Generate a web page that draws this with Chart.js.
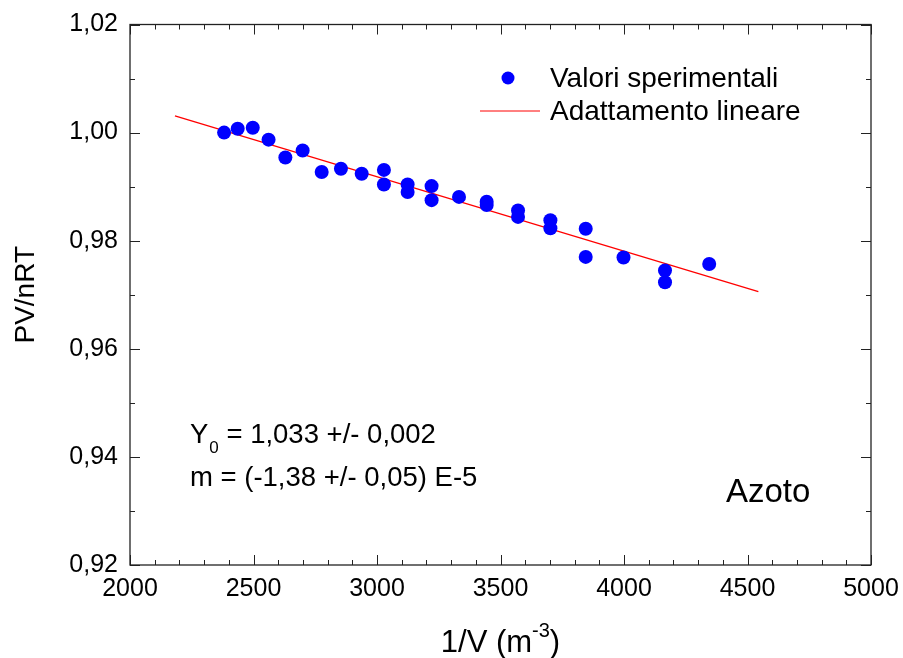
<!DOCTYPE html>
<html>
<head>
<meta charset="utf-8">
<title>Azoto - PV/nRT</title>
<script src="https://cdn.jsdelivr.net/npm/chart.js@4"></script>
<style>
  html, body { margin: 0; padding: 0; background: #fff; }
  canvas { display: block; }
</style>
</head>
<body>
<canvas id="chart" width="903" height="658"></canvas>
<script>
// measured points: 1/V (m^-3) and PV/nRT
const inverseVolume = [2381, 2436, 2497, 2561, 2629, 2699, 2776, 2854, 2938, 3028, 3028,
    3124, 3124, 3221, 3221, 3332, 3444, 3444, 3571, 3571, 3702, 3702, 3845, 3845, 3998,
    4166, 4166, 4345];
const pvOverNRT = [1.0000, 1.0007, 1.0009, 0.9987, 0.9954, 0.9967, 0.9927, 0.9933, 0.9924, 0.9931, 0.9904,
    0.9904, 0.9890, 0.9901, 0.9875, 0.9881, 0.9872, 0.9866, 0.9856, 0.9844, 0.9838, 0.9823, 0.9822, 0.9770, 0.9769,
    0.9745, 0.9723, 0.9757];

// linear fit, end points as drawn
const fitX = [2182, 4544];
const fitY = [1.0031, 0.9706];

// axes
const xRange = [2000, 5000];
const xStep = 500;
const yRange = [0.92, 1.02];
const yStep = 0.02;

const legendLabels = ['Valori sperimentali', 'Adattamento lineare'];
const fitText = ['= 1,033 +/- 0,002', 'm = (-1,38 +/- 0,05) E-5'];
const gasName = 'Azoto';

const FONT = '"Liberation Sans", Arial, Helvetica, sans-serif';
Chart.defaults.font.family = FONT;
Chart.defaults.color = '#000';

function inwardTicks(ctx, area, xs, ys) {
    ctx.save();
    ctx.strokeStyle = '#222';
    ctx.lineWidth = 1;
    ctx.beginPath();
    for (let v = xRange[0]; v <= xRange[1]; v += 100) {
        const px = Math.round(xs.getPixelForValue(v)) + 0.5;
        const len = v % xStep === 0 ? 10 : 5;
        ctx.moveTo(px, area.bottom); ctx.lineTo(px, area.bottom - len);
        ctx.moveTo(px, area.top); ctx.lineTo(px, area.top + len);
    }
    for (let k = 92; k <= 102; k++) {
        const py = Math.round(ys.getPixelForValue(k / 100)) + 0.5;
        const len = k % 2 === 0 ? 10 : 5;
        ctx.moveTo(area.left, py); ctx.lineTo(area.left + len, py);
        ctx.moveTo(area.right, py); ctx.lineTo(area.right - len, py);
    }
    ctx.stroke();
    ctx.lineWidth = 1.3;
    ctx.strokeRect(area.left, area.top, area.right - area.left, area.bottom - area.top);
    ctx.restore();
}

const decorations = {
    id: 'decorations',
    afterDraw(chart) {
        const { ctx, chartArea, scales } = chart;
        inwardTicks(ctx, chartArea, scales.x, scales.y);

        ctx.save();
        ctx.textBaseline = 'alphabetic';
        ctx.textAlign = 'left';

        // legend
        ctx.fillStyle = '#0000ff';
        ctx.beginPath();
        ctx.arc(508, 78, 6.5, 0, Math.PI * 2);
        ctx.fill();
        ctx.strokeStyle = '#ff0000';
        ctx.lineWidth = 1;
        ctx.beginPath();
        ctx.moveTo(480, 111); ctx.lineTo(540, 111);
        ctx.stroke();
        ctx.fillStyle = '#000';
        ctx.font = '28px ' + FONT;
        ctx.fillText(legendLabels[0], 550, 87);
        ctx.fillText(legendLabels[1], 550, 120);

        // fit parameters
        ctx.font = '27.5px ' + FONT;
        ctx.fillText('Y', 190, 443);
        let x = 190 + ctx.measureText('Y').width + 1;
        ctx.font = '17px ' + FONT;
        ctx.fillText('0', x, 453);
        x += ctx.measureText('0').width;
        ctx.font = '27.5px ' + FONT;
        ctx.fillText(' ' + fitText[0], x, 443);
        ctx.fillText(fitText[1], 190, 486);

        ctx.font = '33px ' + FONT;
        ctx.fillText(gasName, 726, 502);

        // x axis title with superscript
        const main = '1/V (m', sup = '-3', close = ')';
        ctx.font = '31px ' + FONT;
        const wMain = ctx.measureText(main).width;
        const wClose = ctx.measureText(close).width;
        ctx.font = '20px ' + FONT;
        const wSup = ctx.measureText(sup).width;
        let tx = (chartArea.left + chartArea.right) / 2 - (wMain + wSup + wClose) / 2;
        ctx.font = '31px ' + FONT;
        ctx.fillText(main, tx, 652);
        tx += wMain;
        ctx.font = '20px ' + FONT;
        ctx.fillText(sup, tx, 637);
        tx += wSup;
        ctx.font = '31px ' + FONT;
        ctx.fillText(close, tx, 652);
        ctx.restore();
    }
};

new Chart(document.getElementById('chart'), {
    type: 'scatter',
    data: {
        datasets: [{
            label: legendLabels[0],
            data: inverseVolume.map((v, i) => ({ x: v, y: pvOverNRT[i] })),
            backgroundColor: '#0000ff',
            borderColor: '#0000ff',
            borderWidth: 0,
            pointRadius: 7
        }, {
            label: legendLabels[1],
            data: fitX.map((v, i) => ({ x: v, y: fitY[i] })),
            showLine: true,
            borderColor: '#ff0000',
            borderWidth: 1.3,
            pointRadius: 0
        }]
    },
    options: {
        responsive: false,
        animation: false,
        devicePixelRatio: 1,
        layout: { padding: { top: 24.5, right: 32, bottom: 0, left: 0 } },
        plugins: { legend: { display: false }, tooltip: { enabled: false } },
        scales: {
            x: {
                type: 'linear',
                min: xRange[0], max: xRange[1],
                afterFit: s => { s.height = 93; s.paddingLeft = 0; s.paddingRight = 0; },
                grid: { display: false, drawTicks: false },
                border: { display: false },
                ticks: {
                    stepSize: xStep, padding: 9, maxRotation: 0, autoSkip: false,
                    font: { size: 25 }, color: '#000',
                    callback: v => String(v)
                }
            },
            y: {
                min: yRange[0], max: yRange[1],
                afterFit: s => { s.width = 130; s.paddingTop = 0; s.paddingBottom = 0; },
                grid: { display: false, drawTicks: false },
                border: { display: false },
                ticks: {
                    stepSize: yStep, padding: 12,
                    font: { size: 25 }, color: '#000',
                    callback: v => v.toFixed(2).replace('.', ',')
                },
                title: {
                    display: true, text: 'PV/nRT', color: '#000',
                    font: { size: 28 }, padding: { top: 9, bottom: 0 }
                }
            }
        }
    },
    plugins: [decorations]
});
</script>
</body>
</html>
